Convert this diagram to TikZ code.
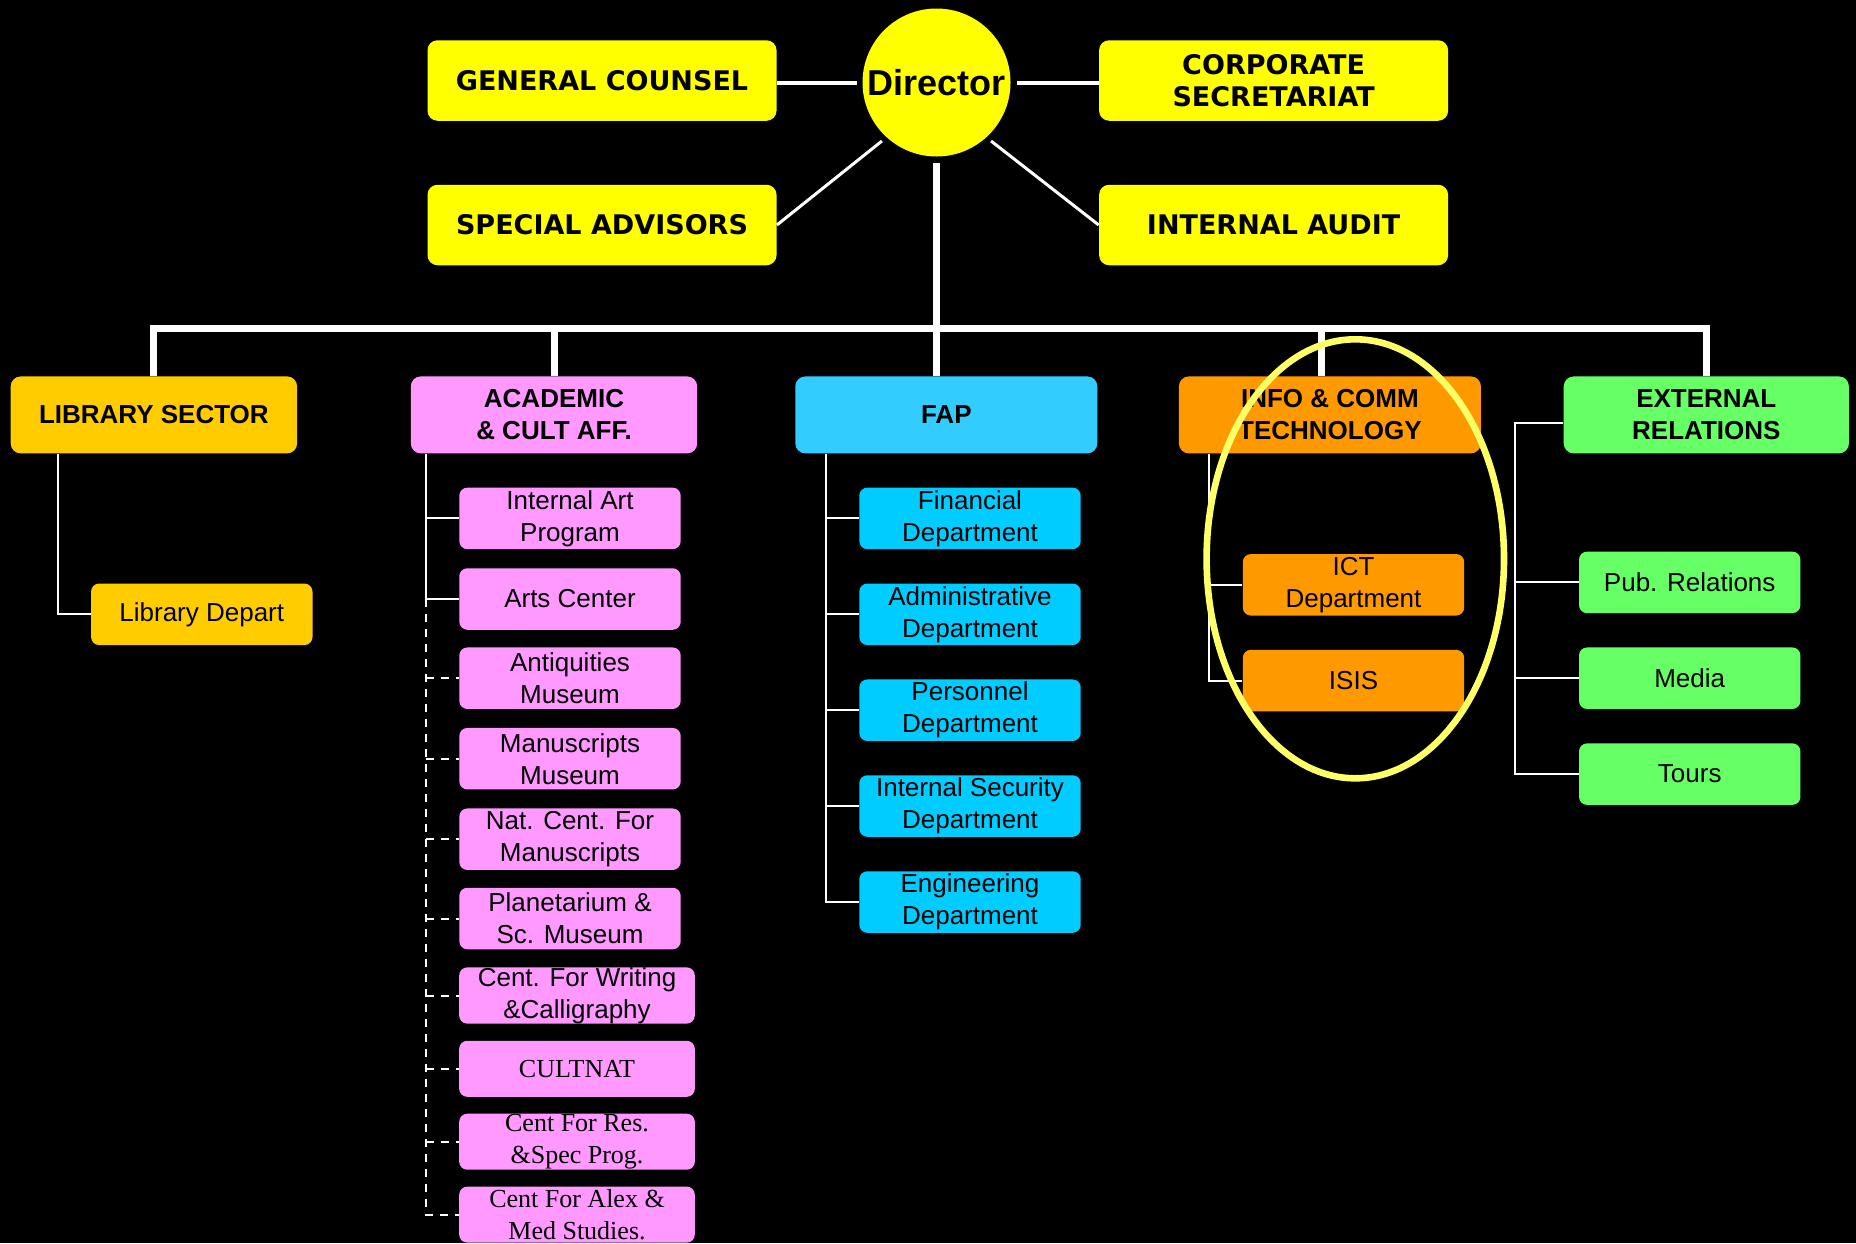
\documentclass[tikz,border=0pt]{standalone}
\usepackage{fontspec}
\setmainfont{Liberation Sans}
\newfontfamily\heavy{DejaVu Sans}
\newfontfamily\timesf{Liberation Serif}
\usepackage{xcolor}
\usetikzlibrary{positioning, calc}

\definecolor{topyel}{HTML}{FFFF00}
\definecolor{libc}{HTML}{FFCC00}
\definecolor{acadc}{HTML}{FF99FF}
\definecolor{fapc}{HTML}{33CCFF}
\definecolor{fapsub}{HTML}{00CCFF}
\definecolor{infoc}{HTML}{FF9900}
\definecolor{extc}{HTML}{66FF66}
\definecolor{ringc}{HTML}{FFFF66}

\begin{document}
\begin{tikzpicture}[x=0.5pt,y=-0.5pt,
    topbox/.style={fill=topyel,rounded corners=5pt,minimum width=174.5pt,minimum height=40.25pt,inner sep=0pt,align=center,font=\heavy\bfseries\fontsize{13.5}{16}\selectfont},
    head/.style={rounded corners=5pt,minimum height=38.5pt,inner sep=0pt,align=center,font=\bfseries\fontsize{13}{16}\selectfont},
    sub/.style={rounded corners=4pt,minimum width=110.7pt,minimum height=30.75pt,inner sep=0pt,align=center,font=\fontsize{13}{16}\selectfont},
    wide/.style={sub,minimum width=117.8pt,minimum height=28pt},
    topline/.style={draw=white,line width=2pt},
    diag/.style={draw=white,line width=1.5pt},
    bus/.style={draw=white,line width=3.5pt},
    thin/.style={draw=white,line width=1pt},
    dashline/.style={draw=white,line width=1pt,dash pattern=on 4pt off 3.5pt}]
      \fill[black] (0,0) rectangle (1856,1243);
      \useasboundingbox (0,0) rectangle (1856,1243);
      % top level
      \node[circle,fill=topyel,minimum size=74pt,inner sep=0pt,outer sep=3pt,font=\bfseries\fontsize{18}{20}\selectfont] (dir) at (936.5,82.5) {Director};
      \node[topbox] (gc) at (602,80.5) {GENERAL COUNSEL};
      \node[topbox] (cs) at (1273.6,80.5) {CORPORATE\\SECRETARIAT};
      \node[topbox] (sa) at (602,225) {SPECIAL ADVISORS};
      \node[topbox] (ia) at (1273.6,225) {INTERNAL AUDIT};
      \draw[topline] (dir.west) -- (dir.west -| gc.east);
      \draw[topline] (dir.east) -- (dir.east -| cs.west);
      \draw[diag] (sa.east) -- (dir.-133);
      \draw[diag] (ia.west) -- (dir.-47);
      % sectors
      \node[head,fill=libc,minimum width=143.2pt] (lib) at (153.9,414.9) {LIBRARY SECTOR};
      \node[head,fill=acadc,minimum width=143.2pt] (acad) at (554,414.9) {ACADEMIC\\\& CULT AFF.};
      \node[head,fill=fapc,minimum width=151pt] (fap) at (946.3,414.9) {FAP};
      \node[head,fill=infoc,minimum width=151pt] (info) at (1329.9,414.9) {INFO \& COMM\\TECHNOLOGY};
      \node[head,fill=extc,minimum width=142.6pt] (ext) at (1706.3,414.9) {EXTERNAL\\RELATIONS};
      \coordinate (bus) at (936.5,328);
      \coordinate (infotop) at ([xshift=-4pt]info.north);
      \draw[bus] (lib.north) -- (lib.north |- bus) -- (ext.north |- bus) -- (ext.north);
      \draw[bus] (dir.south) -- (dir.south |- fap.north);
      \draw[bus] (acad.north) -- (acad.north |- bus);
      \draw[bus] (infotop) -- (infotop |- bus);
      % library
      \node[sub,fill=libc] (libdep) at (201.8,614.3) {Library Depart};
      \draw[thin] ($(lib.south west)+(47.3,0)$) |- (libdep.west);
      % academic & cultural
      \node[sub,fill=acadc] (iap) at (570,518.4) {Internal Art\\Program};
      \node[sub,fill=acadc] (arts) at (570,599) {Arts Center};
      \node[sub,fill=acadc] (anti) at (570,678.2) {Antiquities\\Museum};
      \node[sub,fill=acadc] (manm) at (570,758.7) {Manuscripts\\Museum};
      \node[sub,fill=acadc] (natc) at (570,839.2) {Nat. Cent. For\\Manuscripts};
      \node[sub,fill=acadc] (plan) at (570,918.5) {Planetarium \&\\Sc. Museum};
      \node[wide,fill=acadc] (writ) at (577,995.5) {Cent. For Writing\\\&Calligraphy};
      \node[wide,fill=acadc,font=\timesf\fontsize{13}{16}\selectfont] (cult) at (577,1068.8) {CULTNAT};
      \node[wide,fill=acadc,font=\timesf\fontsize{13}{16}\selectfont] (res) at (577,1141.7) {Cent For Res.\\\&Spec Prog.};
      \node[wide,fill=acadc,font=\timesf\fontsize{13}{16}\selectfont] (alex) at (577,1214.6) {Cent For Alex \&\\Med Studies.};
      \coordinate (acs) at ($(acad.south west)+(15.3,0)$);
      \draw[thin] (acs) |- (arts.west);
      \draw[thin] (acs |- iap.west) -- (iap.west);
      \draw[dashline] (acs |- arts.west) |- (alex.west);
      \foreach \n in {anti,manm,natc,plan,writ,cult,res}
        \draw[dashline] (acs |- \n.west) -- (\n.west);
      % FAP
      \node[sub,fill=fapsub] (fin) at (970,518.4) {Financial\\Department};
      \node[sub,fill=fapsub] (adm) at (970,614.3) {Administrative\\Department};
      \node[sub,fill=fapsub] (pers) at (970,710.2) {Personnel\\Department};
      \node[sub,fill=fapsub] (isec) at (970,806) {Internal Security\\Department};
      \node[sub,fill=fapsub] (eng) at (970,902) {Engineering\\Department};
      \coordinate (fs) at ($(fap.south west)+(30.8,0)$);
      \draw[thin] (fs) |- (eng.west);
      \foreach \n in {fin,adm,pers,isec}
        \draw[thin] (fs |- \n.west) -- (\n.west);
      % ICT
      \node[sub,fill=infoc] (ictd) at (1353.5,584.8) {ICT\\Department};
      \node[sub,fill=infoc] (isis) at (1353.5,680.6) {ISIS};
      \coordinate (is) at ($(info.south west)+(30.7,0)$);
      \draw[thin] (is) |- (isis.west);
      \draw[thin] (is |- ictd.west) -- (ictd.west);
      % external relations
      \node[sub,fill=extc] (pub) at (1689.7,582.4) {Pub. Relations};
      \node[sub,fill=extc] (media) at (1689.7,678.2) {Media};
      \node[sub,fill=extc] (tours) at (1689.7,774.1) {Tours};
      \coordinate (es) at ($(ext.west)+(-48.6,8)$);
      \draw[thin] (ext.west |- es) -- (es) |- (tours.west);
      \foreach \n in {pub,media}
        \draw[thin] (es |- \n.west) -- (\n.west);
      % highlight
      \draw[draw=ringc,line width=3.3pt] (1355.3,558.8) ellipse [x radius=74.35pt,y radius=109.75pt];
    \end{tikzpicture}
\end{document}
